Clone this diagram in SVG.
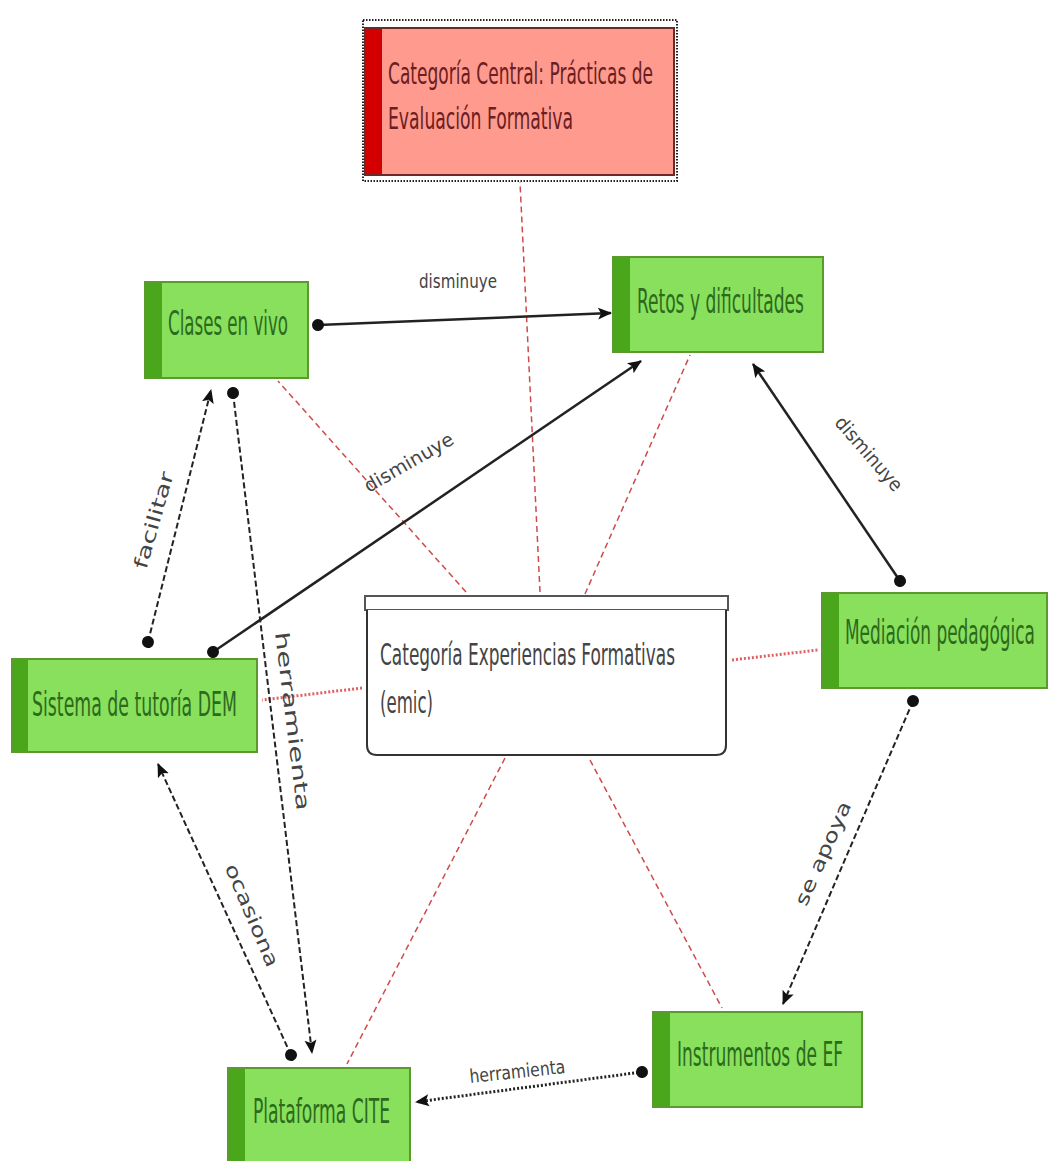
<svg xmlns="http://www.w3.org/2000/svg" width="1049" height="1161" viewBox="0 0 1049 1161">
  <style>
    .node-text { font-family: "DejaVu Sans Condensed", "Liberation Sans Narrow", "Liberation Sans", sans-serif; font-size: 34px; fill: #2c6a1c; }
    .green { fill: #88e05c; stroke: #5c9a30; stroke-width: 2; }
    .green-bar { fill: #4aa71c; }
    .title-text { font-family: "DejaVu Sans Condensed", "Liberation Sans Narrow", "Liberation Sans", sans-serif; font-size: 31px; }
    .edge-label { font-family: "DejaVu Sans", "Liberation Sans", sans-serif; font-size: 19px; fill: #444; }
    .rel { stroke: #d04a4a; stroke-width: 1.5; stroke-dasharray: 6 4; fill: none; }
    .rel-thick { stroke: #e06060; stroke-width: 3; stroke-dasharray: 2 2; fill: none; }
    .solid { stroke: #222; stroke-width: 2.5; fill: none; }
    .dashed { stroke: #222; stroke-width: 2; stroke-dasharray: 6 3; fill: none; }
    .dotted { stroke: #222; stroke-width: 3; stroke-dasharray: 2 2; fill: none; }
  </style>
  <defs>
    <marker id="arrow" markerWidth="14" markerHeight="14" refX="13" refY="7" orient="auto" markerUnits="userSpaceOnUse">
      <path d="M0,1 L14,7 L0,13 L3,7 z" fill="#111"/>
    </marker>
    <marker id="dot" markerWidth="14" markerHeight="14" refX="7" refY="7" orient="auto" markerUnits="userSpaceOnUse">
      <circle cx="7" cy="7" r="6" fill="#111"/>
    </marker>
  </defs>

  <rect width="1049" height="1161" fill="#ffffff"/>

  <!-- relation lines around the central category -->
  <g id="connectors">
    <line class="rel" x1="540" y1="592" x2="520" y2="182"/>
    <line class="rel" x1="466" y1="592" x2="278" y2="381"/>
    <line class="rel" x1="585" y1="594" x2="690" y2="355"/>
    <line class="rel-thick" x1="732" y1="660" x2="818" y2="650"/>
    <line class="rel-thick" x1="362" y1="688" x2="262" y2="700"/>
    <line class="rel" x1="505" y1="758" x2="347" y2="1064"/>
    <line class="rel" x1="590" y1="760" x2="722" y2="1008"/>

    <!-- disminuye: Clases en vivo -> Retos -->
    <line class="solid" x1="318" y1="325" x2="611" y2="313" marker-start="url(#dot)" marker-end="url(#arrow)"/>
    <text class="edge-label" x="458" y="288" text-anchor="middle" textLength="78" lengthAdjust="spacingAndGlyphs">disminuye</text>

    <!-- disminuye: Sistema de tutoría -> Retos -->
    <line class="solid" x1="213" y1="652" x2="641" y2="361" marker-start="url(#dot)" marker-end="url(#arrow)"/>
    <text class="edge-label" transform="translate(412,468) rotate(-30)" text-anchor="middle" textLength="100" lengthAdjust="spacingAndGlyphs">disminuye</text>

    <!-- disminuye: Mediación -> Retos -->
    <line class="solid" x1="900" y1="581" x2="753" y2="364" marker-start="url(#dot)" marker-end="url(#arrow)"/>
    <text class="edge-label" transform="translate(864,458) rotate(49)" text-anchor="middle" textLength="92" lengthAdjust="spacingAndGlyphs">disminuye</text>

    <!-- facilitar -->
    <line class="dashed" x1="148" y1="642" x2="211" y2="390" marker-start="url(#dot)" marker-end="url(#arrow)"/>
    <text class="edge-label" transform="translate(160,522) rotate(-74)" text-anchor="middle" textLength="100" lengthAdjust="spacingAndGlyphs">facilitar</text>

    <!-- herramienta: Clases en vivo -> Plataforma -->
    <line class="dashed" x1="233" y1="393" x2="312" y2="1053" marker-start="url(#dot)" marker-end="url(#arrow)"/>
    <text class="edge-label" transform="translate(286,722) rotate(83)" text-anchor="middle" textLength="180" lengthAdjust="spacingAndGlyphs">herramienta</text>

    <!-- ocasiona -->
    <line class="dashed" x1="291" y1="1055" x2="158" y2="764" marker-start="url(#dot)" marker-end="url(#arrow)"/>
    <text class="edge-label" transform="translate(246,918) rotate(67)" text-anchor="middle" textLength="110" lengthAdjust="spacingAndGlyphs">ocasiona</text>

    <!-- se apoya -->
    <line class="dashed" x1="913" y1="701" x2="783" y2="1004" marker-start="url(#dot)" marker-end="url(#arrow)"/>
    <text class="edge-label" transform="translate(829,856) rotate(-66)" text-anchor="middle" textLength="112" lengthAdjust="spacingAndGlyphs">se apoya</text>

    <!-- herramienta: Instrumentos -> Plataforma -->
    <line class="dotted" x1="642" y1="1072" x2="416" y2="1102" marker-start="url(#dot)" marker-end="url(#arrow)"/>
    <text class="edge-label" transform="translate(518,1078) rotate(-6)" text-anchor="middle" textLength="96" lengthAdjust="spacingAndGlyphs">herramienta</text>
  </g>

  <!-- central category -->
  <g id="central">
    <rect x="363" y="20" width="314" height="161" fill="none" stroke="#222" stroke-width="2" stroke-dasharray="1.5 1.5"/>
    <rect x="365" y="28" width="309" height="147" fill="#ff9a8f" stroke="#6a2a2a" stroke-width="2"/>
    <rect x="366" y="29" width="16" height="145" fill="#d40000"/>
    <text class="title-text" fill="#6a2020" x="388" y="84" textLength="265" lengthAdjust="spacingAndGlyphs">Categoría Central: Prácticas de</text>
    <text class="title-text" fill="#6a2020" x="388" y="129" textLength="185" lengthAdjust="spacingAndGlyphs">Evaluación Formativa</text>
  </g>

  <g id="clases">
    <rect class="green" x="145" y="282" width="163" height="96"/>
    <rect class="green-bar" x="146" y="283" width="16" height="94"/>
    <text class="node-text" x="168" y="335" textLength="120" lengthAdjust="spacingAndGlyphs">Clases en vivo</text>
  </g>

  <g id="retos">
    <rect class="green" x="613" y="257" width="210" height="95"/>
    <rect class="green-bar" x="614" y="258" width="16" height="93"/>
    <text class="node-text" x="637" y="313" textLength="167" lengthAdjust="spacingAndGlyphs">Retos y dificultades</text>
  </g>

  <g id="mediacion">
    <rect class="green" x="822" y="593" width="225" height="95"/>
    <rect class="green-bar" x="823" y="594" width="16" height="93"/>
    <text class="node-text" font-size="32" x="845" y="644" textLength="190" lengthAdjust="spacingAndGlyphs">Mediación pedagógica</text>
  </g>

  <g id="sistema">
    <rect class="green" x="12" y="659" width="245" height="93"/>
    <rect class="green-bar" x="13" y="660" width="15" height="91"/>
    <text class="node-text" x="32" y="716" textLength="205" lengthAdjust="spacingAndGlyphs">Sistema de tutoría DEM</text>
  </g>

  <g id="experiencias">
    <rect x="365" y="596" width="363" height="14" fill="#ffffff" stroke="#555" stroke-width="2"/>
    <path d="M367,610 V745 Q367,755 377,755 H716 Q726,755 726,745 V610" fill="#ffffff" stroke="#333" stroke-width="2"/>
    <text class="title-text" fill="#444" x="380" y="665" textLength="295" lengthAdjust="spacingAndGlyphs">Categoría Experiencias Formativas</text>
    <text class="title-text" fill="#444" x="380" y="713" textLength="53" lengthAdjust="spacingAndGlyphs">(emic)</text>
  </g>

  <g id="plataforma">
    <rect class="green" x="228" y="1068" width="182" height="100"/>
    <rect class="green-bar" x="229" y="1069" width="16" height="98"/>
    <text class="node-text" x="253" y="1123" textLength="137" lengthAdjust="spacingAndGlyphs">Plataforma CITE</text>
  </g>

  <g id="instrumentos">
    <rect class="green" x="653" y="1012" width="209" height="95"/>
    <rect class="green-bar" x="654" y="1013" width="16" height="93"/>
    <text class="node-text" x="677" y="1066" textLength="166" lengthAdjust="spacingAndGlyphs">Instrumentos de EF</text>
  </g>
</svg>
